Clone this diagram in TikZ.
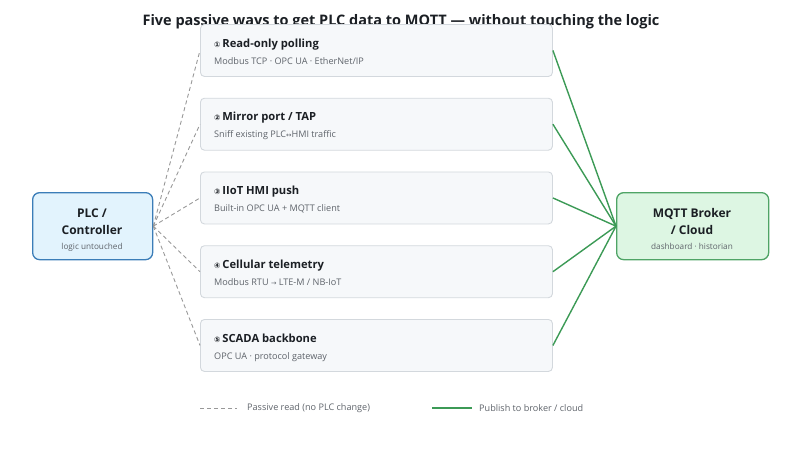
\documentclass[tikz,border=0pt]{standalone}
\usepackage{fontspec}
\setmainfont{Open Sans}
\newfontfamily\symfont{DejaVu Sans}
\usetikzlibrary{positioning}

\definecolor{boxfill}{HTML}{F6F8FA}
\definecolor{boxline}{HTML}{D3D8DD}
\definecolor{plcfill}{HTML}{E2F3FD}
\definecolor{plcline}{HTML}{3B7DB8}
\definecolor{brokerfill}{HTML}{DDF6E3}
\definecolor{brokerline}{HTML}{4FA466}
\definecolor{pubgreen}{HTML}{3C9A56}
\definecolor{readgray}{HTML}{989898}
\definecolor{subgray}{HTML}{5E636A}
\definecolor{inkdark}{HTML}{1B1F24}

\tikzset{
    waybox/.style={draw=boxline, fill=boxfill, rounded corners=4pt, line width=0.9pt,
        minimum width=352pt, minimum height=52pt, inner sep=0pt, anchor=north west},
    endbox/.style={rounded corners=7pt, line width=1.3pt, minimum width=120pt,
        minimum height=67pt, inner sep=0pt, anchor=north west},
    wayhead/.style={anchor=base west, inner sep=0pt, font=\fontsize{11.2}{13}\selectfont\bfseries, text=inkdark},
    waysub/.style={anchor=base west, inner sep=0pt, font=\fontsize{9.1}{11}\selectfont, text=subgray},
    endhead/.style={anchor=base, inner sep=0pt, align=center, font=\fontsize{12}{16.5}\selectfont\bfseries, text=inkdark},
    endsub/.style={anchor=base, inner sep=0pt, font=\fontsize{8.2}{9}\selectfont, text=subgray},
    passive/.style={draw=readgray, line width=0.9pt, dash pattern=on 4pt off 3pt},
    publish/.style={draw=pubgreen, line width=1.4pt},
}
\newcommand{\waynum}[1]{{\symfont\fontsize{7.5}{8}\selectfont #1}\,}

\begin{document}
\begin{tikzpicture}[x=1pt, y=-1pt]
    \useasboundingbox (0, 0) rectangle (800, 448);

    % variables
    \def\boxleft{200}
    \def\headdrop{23}
    \def\subdrop{40}

    % Title (the first box sits over its lower edge)
    \node[anchor=base, inner sep=0pt, font=\fontsize{14.5}{16}\selectfont\bfseries, text=inkdark]
        (title) at (401, 25) {Five passive ways to get PLC data to MQTT — without touching the logic};

    % End points
    \node[endbox, draw=plcline, fill=plcfill] (plc) at (32, 192) {};
    \node[endhead] (plchead) at (92, 234) {PLC /\\Controller};
    \node[endsub] (plcsub) at (92, 249) {logic untouched};

    \node[endbox, draw=brokerline, fill=brokerfill, minimum width=152pt] (broker) at (616, 192) {};
    \node[endhead] (brokerhead) at (692, 234) {MQTT Broker\\/ Cloud};
    \node[endsub] (brokersub) at (692, 249) {dashboard · historian};

    % First way
    \node[waybox] (way1) at (\boxleft, 24) {};
    \node[wayhead] (way1head) at (214, 24+\headdrop) {\waynum{①}Read-only polling};
    \node[waysub] (way1sub) at (214, 24+\subdrop) {Modbus TCP · OPC UA · EtherNet/IP};

    % Second way
    \node[waybox] (way2) at (\boxleft, 97.75) {};
    \node[wayhead] (way2head) at (214, 97.75+\headdrop) {\waynum{②}Mirror port / TAP};
    \node[waysub] (way2sub) at (214, 97.75+\subdrop) {Sniff existing PLC{\symfont\fontsize{6.5}{7}\selectfont ↔}HMI traffic};

    % Third way
    \node[waybox] (way3) at (\boxleft, 171.5) {};
    \node[wayhead] (way3head) at (214, 171.5+\headdrop) {\waynum{③}IIoT HMI push};
    \node[waysub] (way3sub) at (214, 171.5+\subdrop) {Built-in OPC UA + MQTT client};

    % Fourth way
    \node[waybox] (way4) at (\boxleft, 245.25) {};
    \node[wayhead] (way4head) at (214, 245.25+\headdrop) {\waynum{④}Cellular telemetry};
    \node[waysub] (way4sub) at (214, 245.25+\subdrop) {Modbus RTU {\symfont\fontsize{6.5}{7}\selectfont →} LTE-M / NB-IoT};

    % Fifth way
    \node[waybox] (way5) at (\boxleft, 319) {};
    \node[wayhead] (way5head) at (214, 319+\headdrop) {\waynum{⑤}SCADA backbone};
    \node[waysub] (way5sub) at (214, 319+\subdrop) {OPC UA · protocol gateway};

    % Connectors
    \draw[passive] (plc.east) -- (way1.west);
    \draw[passive] (plc.east) -- (way2.west);
    \draw[passive] (plc.east) -- (way3.west);
    \draw[passive] (plc.east) -- (way4.west);
    \draw[passive] (plc.east) -- (way5.west);
    \draw[publish] (way1.east) -- (broker.west);
    \draw[publish] (way2.east) -- (broker.west);
    \draw[publish] (way3.east) -- (broker.west);
    \draw[publish] (way4.east) -- (broker.west);
    \draw[publish] (way5.east) -- (broker.west);

    % Legend
    \coordinate (readA) at (200, 408);
    \coordinate (readB) at (237, 408);
    \coordinate (pubA) at (432, 408);
    \coordinate (pubB) at (472, 408);
    \draw[passive] (readA) -- (readB);
    \node[waysub, anchor=west] (readtext) at (247, 408) {Passive read (no PLC change)};
    \draw[publish] (pubA) -- (pubB);
    \node[waysub, anchor=west] (pubtext) at (479, 408) {Publish to broker / cloud};

\end{tikzpicture}
\end{document}
